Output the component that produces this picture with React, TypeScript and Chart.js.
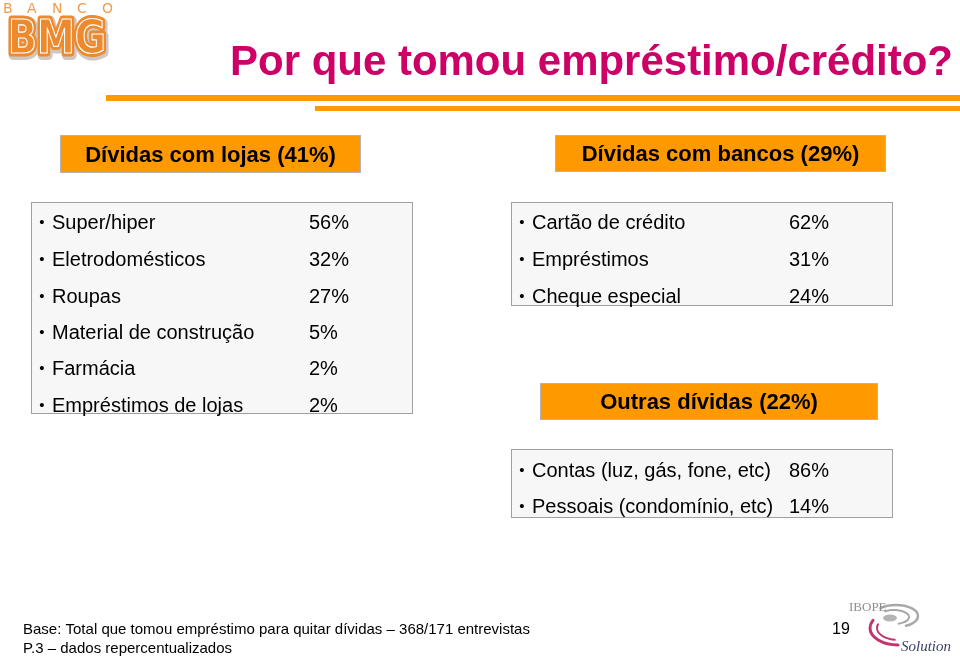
import React, { useEffect, useRef } from "react";
import { Chart, registerables } from "chart.js";

Chart.register(...registerables);

// ---------------- DATA ----------------
const pageTitle = "Por que tomou empréstimo/crédito?";
const groupNames = ["Dívidas com lojas", "Dívidas com bancos", "Outras dívidas"];
const groupShares = [41, 29, 22];

const lojasItems = [
  "Super/hiper",
  "Eletrodomésticos",
  "Roupas",
  "Material de construção",
  "Farmácia",
  "Empréstimos de lojas",
];
const lojasValues = [56, 32, 27, 5, 2, 2];

const bancosItems = ["Cartão de crédito", "Empréstimos", "Cheque especial"];
const bancosValues = [62, 31, 24];

const outrasItems = ["Contas (luz, gás, fone, etc)", "Pessoais (condomínio, etc)"];
const outrasValues = [86, 14];

const footnotes = [
  "Base: Total que tomou empréstimo para quitar dívidas – 368/171 entrevistas",
  "P.3 – dados repercentualizados",
];
const pageNumber = "19";
const bankLogoTop = "BANCO";
const bankLogoMain = "BMG";
const ipsLogo = ["IBOPE", "Solution"];

// ---------------- LAYOUT / STYLE ----------------
const W = 960;
const H = 658;
const ORANGE = "#FF9900";
const MAGENTA = "#CC0066";
const SANS = '"Liberation Sans", Arial, Helvetica, sans-serif';

const groups = [
  {
    header: [60, 135, 361, 173],
    box: [31, 202, 413, 414],
    bulletX: 42,
    textX: 52,
    pctX: 309,
    baselines: [229, 266, 302.5, 338.5, 375, 411.5],
    items: lojasItems,
    values: lojasValues,
  },
  {
    header: [555, 135, 886, 172],
    box: [511, 202, 893, 306],
    bulletX: 522,
    textX: 532,
    pctX: 789,
    baselines: [229, 266, 302.5],
    items: bancosItems,
    values: bancosValues,
  },
  {
    header: [540, 383, 878, 420],
    box: [511, 449, 893, 518],
    bulletX: 522,
    textX: 532,
    pctX: 789,
    baselines: [477, 513],
    items: outrasItems,
    values: outrasValues,
  },
];

const slidePlugin = {
  id: "slide",
  afterDraw(chart: any) {
    const ctx: CanvasRenderingContext2D = chart.ctx;
    const xs = chart.scales.x;
    const ys = chart.scales.y;
    const X = (v: number) => xs.getPixelForValue(v);
    const Y = (v: number) => ys.getPixelForValue(v);

    ctx.save();
    ctx.fillStyle = "#ffffff";
    ctx.fillRect(X(0), Y(0), X(W) - X(0), Y(H) - Y(0));

    // ---- BMG logo ----
    ctx.fillStyle = "#F29B4A";
    ctx.font = '14px "DejaVu Sans", sans-serif';
    ctx.textAlign = "left";
    ctx.textBaseline = "alphabetic";
    const letterX = [3, 27, 52, 77, 102];
    bankLogoTop.split("").forEach((ch, i) => ctx.fillText(ch, X(letterX[i]), Y(13)));

    ctx.save();
    ctx.font = 'bold 46px "DejaVu Sans", sans-serif';
    const bw = ctx.measureText(bankLogoMain).width;
    const sx = 98 / bw;
    ctx.translate(X(8), Y(53));
    ctx.scale(sx, 1);
    ctx.lineJoin = "round";
    ctx.strokeStyle = "#CFC8C2";
    ctx.lineWidth = 10;
    ctx.strokeText(bankLogoMain, 1.5, 1.5);
    ctx.strokeStyle = "#EE8A2E";
    ctx.lineWidth = 7;
    ctx.strokeText(bankLogoMain, 0, 0);
    ctx.fillStyle = "#EE8A2E";
    ctx.fillText(bankLogoMain, 0, 0);
    ctx.strokeStyle = "#FFFFFF";
    ctx.lineWidth = 1.2;
    ctx.strokeText(bankLogoMain, 0, 0);
    ctx.restore();

    // ---- title ----
    ctx.fillStyle = MAGENTA;
    ctx.font = `bold 42px ${SANS}`;
    ctx.textAlign = "left";
    const tw = ctx.measureText(pageTitle).width;
    ctx.save();
    ctx.translate(X(230), Y(75));
    ctx.scale(723 / tw, 1);
    ctx.fillText(pageTitle, 0, 0);
    ctx.restore();

    // ---- orange rules ----
    ctx.fillStyle = ORANGE;
    ctx.fillRect(X(106), Y(95), X(W) - X(106), Y(101) - Y(95));
    ctx.fillRect(X(315), Y(106), X(W) - X(315), Y(111) - Y(106));

    // ---- groups ----
    groups.forEach((g, gi) => {
      const [hx0, hy0, hx1, hy1] = g.header;
      ctx.fillStyle = ORANGE;
      ctx.fillRect(X(hx0), Y(hy0), X(hx1) - X(hx0), Y(hy1) - Y(hy0));
      ctx.strokeStyle = "#B4B4B4";
      ctx.lineWidth = 1;
      ctx.strokeRect(X(hx0) + 0.5, Y(hy0) + 0.5, X(hx1) - X(hx0) - 1, Y(hy1) - Y(hy0) - 1);
      ctx.fillStyle = "#000000";
      ctx.font = `bold 22px ${SANS}`;
      ctx.textAlign = "center";
      ctx.fillText(
        `${groupNames[gi]} (${groupShares[gi]}%)`,
        X((hx0 + hx1) / 2),
        Y((hy0 + hy1) / 2 + 7.5)
      );

      const [bx0, by0, bx1, by1] = g.box;
      ctx.fillStyle = "#F7F7F7";
      ctx.fillRect(X(bx0), Y(by0), X(bx1) - X(bx0), Y(by1) - Y(by0));
      ctx.strokeStyle = "#A0A0A0";
      ctx.strokeRect(X(bx0) + 0.5, Y(by0) + 0.5, X(bx1) - X(bx0) - 1, Y(by1) - Y(by0) - 1);

      ctx.fillStyle = "#000000";
      g.items.forEach((label, i) => {
        const base = g.baselines[i];
        ctx.font = `15px ${SANS}`;
        ctx.textAlign = "center";
        ctx.fillText("•", X(g.bulletX), Y(base - 2));
        ctx.font = `20px ${SANS}`;
        ctx.textAlign = "left";
        ctx.fillText(label, X(g.textX), Y(base));
        ctx.fillText(`${g.values[i]}%`, X(g.pctX), Y(base));
      });
    });

    // ---- footnotes ----
    ctx.fillStyle = "#000000";
    ctx.font = `15px ${SANS}`;
    ctx.textAlign = "left";
    ctx.fillText(footnotes[0], X(23), Y(634));
    ctx.fillText(footnotes[1], X(23), Y(653));
    ctx.font = `16px ${SANS}`;
    ctx.fillText(pageNumber, X(832), Y(634));

    // ---- IBOPE Solution logo ----
    ctx.save();
    ctx.strokeStyle = "#A8A8A8";
    ctx.lineCap = "round";
    ctx.lineWidth = 2.5;
    ctx.beginPath();
    ctx.ellipse(X(896), Y(616), 22, 11, 0, -Math.PI * 0.75, Math.PI * 0.35);
    ctx.stroke();
    ctx.lineWidth = 2;
    ctx.beginPath();
    ctx.ellipse(X(894), Y(617), 15, 7, 0, -Math.PI * 0.7, Math.PI * 0.4);
    ctx.stroke();
    ctx.fillStyle = "#B4B4B4";
    ctx.beginPath();
    ctx.ellipse(X(890), Y(618), 7, 3.5, 0, 0, Math.PI * 2);
    ctx.fill();
    ctx.strokeStyle = "#C2356E";
    ctx.lineWidth = 3;
    ctx.beginPath();
    ctx.ellipse(X(898), Y(628), 28, 17, 0, Math.PI * 0.5, Math.PI * 1.15);
    ctx.stroke();
    ctx.lineWidth = 2;
    ctx.beginPath();
    ctx.ellipse(X(898), Y(628), 21, 12, 0, Math.PI * 0.55, Math.PI * 1.1);
    ctx.stroke();
    ctx.fillStyle = "#8E8E8E";
    ctx.font = '13px "Liberation Serif", "DejaVu Serif", serif';
    ctx.textAlign = "left";
    ctx.fillText(ipsLogo[0], X(849), Y(611));
    ctx.fillStyle = "#3A3F6A";
    ctx.font = 'italic 15px "Liberation Serif", "DejaVu Serif", serif';
    ctx.fillText(ipsLogo[1], X(901), Y(651));
    ctx.restore();

    ctx.restore();
  },
};

export default function App() {
  const ref = useRef<HTMLCanvasElement>(null);
  useEffect(() => {
    if (!ref.current) return;
    const chart = new Chart(ref.current, {
      type: "scatter",
      data: { datasets: [] },
      options: {
        responsive: false,
        animation: false,
        events: [],
        layout: { padding: 0 },
        plugins: { legend: { display: false }, tooltip: { enabled: false } },
        scales: {
          x: { type: "linear", min: 0, max: W, display: false },
          y: { type: "linear", min: 0, max: H, reverse: true, display: false },
        },
      },
      plugins: [slidePlugin],
    } as any);
    return () => chart.destroy();
  }, []);
  return (
    <div style={{ position: "absolute", left: 0, top: 0, width: W, height: H, background: "#fff" }}>
      <canvas ref={ref} width={W} height={H} style={{ display: "block" }} />
    </div>
  );
}
